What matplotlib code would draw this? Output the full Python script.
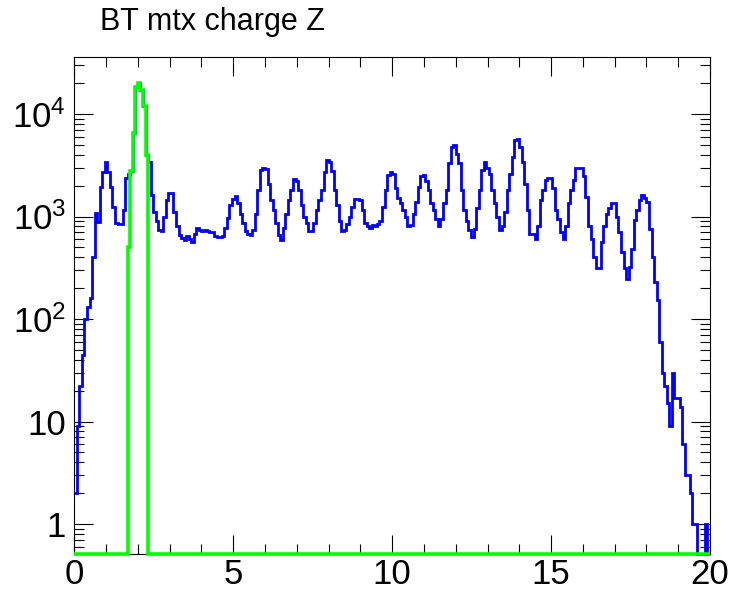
import numpy as np
import matplotlib
matplotlib.use("Agg")
import matplotlib.pyplot as plt
from matplotlib.ticker import LogLocator, MultipleLocator, NullFormatter, FixedLocator

plt.rcParams['font.family'] = ['Liberation Sans', 'DejaVu Sans']
plt.rcParams['mathtext.fontset'] = 'custom'
plt.rcParams['mathtext.rm'] = 'Liberation Sans'

# histogram range: 250 bins over charge Z 0..20
z_min, z_max, n_bins = 0, 20, 250

# all BT matrix charges (blue)
blue_counts = [
    2, 9, 22, 45, 100, 130, 160, 405, 1080, 890,
    1950, 2750, 3400, 2700, 1950, 1250, 860, 850, 840, 1160, 2400,
    2600, 2800, 6500, 18500, 20000, 17000, 12000, 4000,
    3420, 1620, 1100, 900, 740, 720, 1000, 1450, 1700, 1700, 1110, 800,
    660, 620, 590, 640, 600, 570, 680, 770, 740, 730,
    740, 720, 700, 700, 640, 630, 630, 640, 770, 960,
    1300, 1480, 1580, 1350, 1050, 860, 720, 680, 660, 740,
    1060, 1810, 2850, 3000, 2900, 2100, 1450, 1160, 860, 660,
    590, 780, 1050, 1450, 1810, 2310, 2200, 1810, 1300, 1000,
    860, 720, 720, 860, 1150, 1450, 1800, 2750, 3560, 3400,
    2800, 1800, 1300, 900, 720, 740, 850, 1000, 1250, 1470,
    1470, 1450, 1160, 860, 800, 780, 820, 800, 850, 900,
    1250, 1810, 2540, 2750, 2600, 1880, 1500, 1350, 1150, 1000,
    800, 820, 1050, 1400, 1950, 2460, 2540, 2200, 1810, 1350,
    1150, 950, 800, 950, 1350, 1810, 3320, 4800, 5000, 4100,
    3300, 1810, 1160, 900, 740, 630, 750, 1200, 1800, 2850,
    3380, 3000, 2600, 1810, 1350, 1000, 740, 800, 1100, 1800,
    2600, 3840, 5520, 5700, 4800, 3400, 2100, 1160, 680, 680,
    610, 800, 1450, 1810, 2270, 2400, 2400, 1900, 1150, 950,
    700, 610, 800, 1360, 1810, 2270, 3000, 3000, 3000, 2500,
    1560, 800, 610, 405, 315, 315, 570, 800, 1070, 1200,
    1360, 1360, 1000, 700, 450, 315, 245, 320, 480, 925,
    1160, 1450, 1620, 1500, 1400, 760, 405, 230, 154, 60,
    30, 22, 15, 9, 30, 17, 17, 14, 6, 3,
    3, 2, 1, 1, 0, 0, 0, 1, 0,
]

# Z = 2 selection (green)
green_peak = [500, 2800, 6500, 18500, 20000, 17000, 12000, 4000]
green_counts = [0] * 21 + green_peak + [0] * 221

x_ticks = [0, 5, 10, 15, 20]
y_ticks = [1, 10, 100, 1000, 10000]
y_labels = ['1', '10', r'$\mathregular{10^{2}}$', r'$\mathregular{10^{3}}$', r'$\mathregular{10^{4}}$']
title = 'BT mtx charge Z'

edges = np.linspace(z_min, z_max, n_bins + 1)
y_lo, y_hi = 0.51, 36000

fig = plt.figure(figsize=(7.32, 5.94), dpi=100)
ax = fig.add_axes([0.1015, 0.0673, 0.8685, 0.8367])
ax.set_yscale('log')

# empty bins sit on the frame bottom, like ROOT draws them
blue = np.clip(np.array(blue_counts, dtype=float), y_lo, None)
green = np.clip(np.array(green_counts, dtype=float), y_lo, None)
ax.stairs(blue, edges, color='#0000ff', lw=2.0, baseline=None, clip_on=False, zorder=3)
ax.stairs(green, edges, color='#00ff00', lw=2.6, baseline=None, clip_on=False, zorder=4)

ax.set_xlim(z_min, z_max)
ax.set_ylim(y_lo, y_hi)

ax.xaxis.set_major_locator(FixedLocator(x_ticks))
ax.xaxis.set_minor_locator(MultipleLocator(1))
ax.set_xticklabels([str(t) for t in x_ticks])
ax.yaxis.set_major_locator(FixedLocator(y_ticks))
ax.set_yticklabels(y_labels)
ax.yaxis.set_minor_locator(LogLocator(base=10, subs=np.arange(2, 10) * 1.0, numticks=20))
ax.yaxis.set_minor_formatter(NullFormatter())

ax.tick_params(which='both', direction='in', top=True, right=True, width=0.8, labelsize=25)
ax.tick_params(which='major', length=14)
ax.tick_params(which='minor', length=7)
ax.tick_params(axis='x', pad=3)
ax.tick_params(axis='y', pad=6)
for s in ax.spines.values():
    s.set_linewidth(0.8)

fig.text(0.137, 0.963, title, fontsize=22, ha='left', va='center')

fig.savefig('out.png', dpi=100)
